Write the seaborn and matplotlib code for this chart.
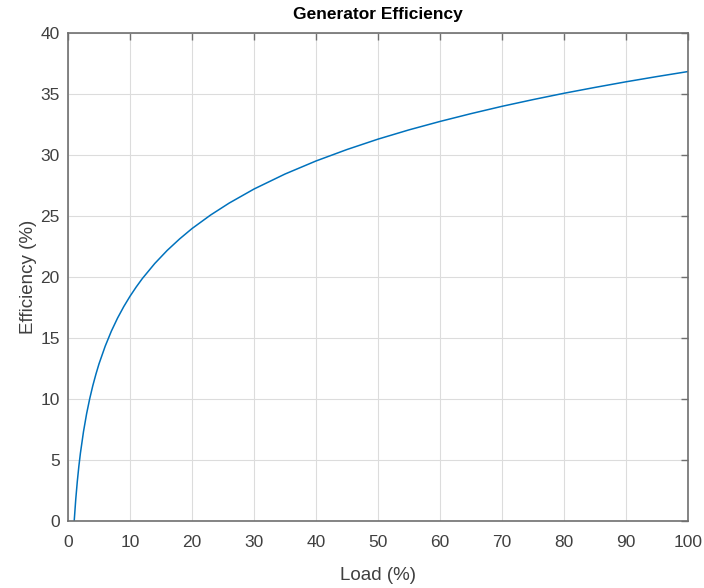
import matplotlib
matplotlib.use("Agg")
import matplotlib.pyplot as plt
import seaborn as sns
import pandas as pd

load_pct = [1, 1.25, 1.5, 1.75, 2, 2.5, 3, 3.5, 4, 4.5, 5, 6, 7, 8, 9, 10, 11, 12, 14, 16,
            18, 20, 23, 26, 30, 35, 40, 45, 50, 55, 60, 65, 70, 75, 80, 85, 90, 95, 100]
efficiency = [0.00, 1.78, 3.24, 4.48, 5.55, 7.33, 8.79, 10.02, 11.09, 12.03, 12.88, 14.33,
              15.57, 16.64, 17.58, 18.42, 19.18, 19.88, 21.11, 22.18, 23.12, 23.97, 25.08,
              26.06, 27.21, 28.44, 29.51, 30.45, 31.30, 32.06, 32.75, 33.39, 33.99, 34.54,
              35.06, 35.54, 36.00, 36.43, 36.84]

x_ticks = list(range(0, 101, 10))
y_ticks = list(range(0, 41, 5))

sns.set_theme(style="white")
plt.rcParams["font.family"] = ["Liberation Sans", "DejaVu Sans"]

df = pd.DataFrame({"Load": load_pct, "Efficiency": efficiency})

fig = plt.figure(figsize=(7.04, 5.88), dpi=100)
ax = fig.add_axes([68 / 704, 1 - 521 / 588, 620 / 704, 488 / 588])
sns.lineplot(data=df, x="Load", y="Efficiency", ax=ax, color="#0072BD", linewidth=1.1)

ax.set_xlim(0, 100)
ax.set_ylim(0, 40)
ax.set_xticks(x_ticks)
ax.set_yticks(y_ticks)
ax.grid(True, color="#dcdcdc", linewidth=0.8)
ax.set_axisbelow(True)
for s in ax.spines.values():
    s.set_color("#6f6f6f")
    s.set_linewidth(1.2)
    s.set_visible(True)
ax.tick_params(direction="in", length=5, width=1, color="#6f6f6f", top=True, right=True,
               labelsize=12.5, labelcolor="#404040")
ax.tick_params(axis="x", pad=10)
ax.tick_params(axis="y", pad=6)
ax.set_xlabel("Load (%)", fontsize=13.5, color="#404040", labelpad=12)
ax.set_ylabel("Efficiency (%)", fontsize=13.5, color="#404040", labelpad=2)
ax.set_title("Generator Efficiency", fontsize=12.5, fontweight="bold", color="black", pad=10)

fig.savefig("out.png", dpi=100)
